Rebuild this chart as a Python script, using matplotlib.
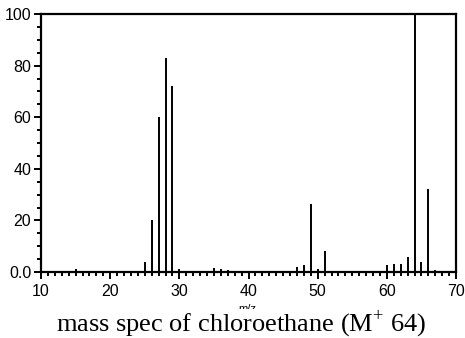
import matplotlib
matplotlib.use("Agg")
import matplotlib.pyplot as plt
from matplotlib.ticker import MultipleLocator, FixedLocator, FixedFormatter

mz = [15, 24, 25, 26, 27, 28, 29, 30, 35, 36, 37, 47, 48, 49, 50, 51,
      59, 60, 61, 62, 63, 64, 65, 66, 67]
intensity = [1.0, 0.5, 4.0, 20.2, 60.2, 82.9, 72.1, 1.2, 1.5, 1.0, 0.8, 1.8, 2.8, 26.5, 1.0, 8.2,
             0.5, 2.6, 3.0, 3.0, 6.0, 100.0, 4.0, 32.0, 0.8]
y_ticks = [0, 20, 40, 60, 80, 100]
y_labels = ["0.0", "20", "40", "60", "80", "100"]
x_ticks = [10, 20, 30, 40, 50, 60, 70]
title = "mass spec of chloroethane (M$^{+}$ 64)"

plt.rcParams['font.family'] = ['Liberation Sans', 'DejaVu Sans']
plt.rcParams['mathtext.fontset'] = 'custom'
plt.rcParams['mathtext.rm'] = 'Liberation Serif'

fig = plt.figure(figsize=(4.65, 3.38), dpi=100)
ax = fig.add_axes([41/465, 1-272/338, (456-41)/465, (272-14)/338])

ax.vlines(mz, 0, intensity, colors='black', linewidth=1.4)
ax.set_xlim(10, 70)
ax.set_ylim(0, 100)

for s in ax.spines.values():
    s.set_linewidth(1.6)
    s.set_color('black')

ax.yaxis.set_major_locator(FixedLocator(y_ticks))
ax.yaxis.set_major_formatter(FixedFormatter(y_labels))
ax.yaxis.set_minor_locator(MultipleLocator(5))
ax.xaxis.set_major_locator(FixedLocator(x_ticks))
ax.xaxis.set_minor_locator(MultipleLocator(1))

ax.tick_params(axis='both', which='major', direction='out', length=5, width=1.4,
               labelsize=11.5, pad=2)
ax.tick_params(axis='x', which='major', pad=4)
ax.tick_params(axis='both', which='minor', direction='out', length=3, width=1.4)
ax.tick_params(top=False, right=False, which='both')

fig.text(247/465, 1-309/338, "m/z", fontsize=8, ha='center', va='center')
fig.text(241/465, 1-332/338, title, fontsize=19, ha='center', va='baseline',
         family=['Liberation Serif', 'DejaVu Serif'],
         bbox=dict(facecolor='white', edgecolor='none', pad=0.0))

fig.savefig("out.png", dpi=100)
